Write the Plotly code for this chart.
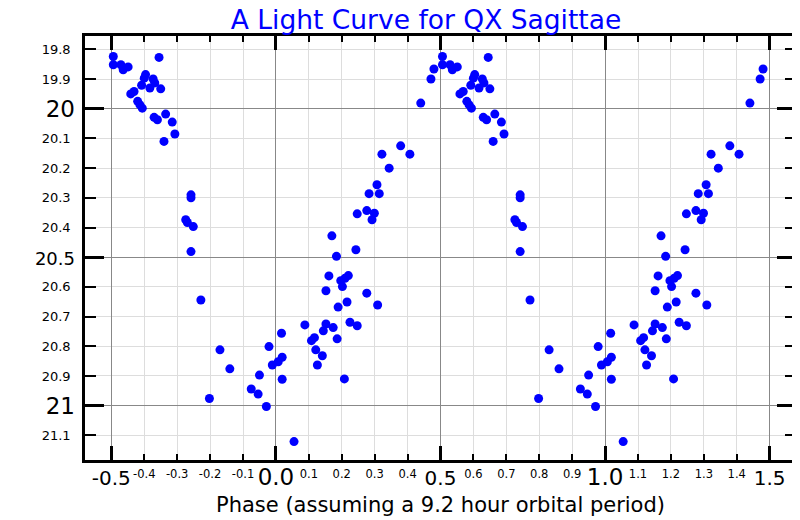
import numpy as np
import plotly.graph_objects as go

# phase-folded photometry of QX Sge (phase in [-0.5, 0.5), magnitude)
phase = [-0.494, -0.494, -0.471, -0.464, -0.449, -0.355, -0.396, -0.400, -0.408, -0.383,
         -0.373, -0.368, -0.350, -0.431, -0.441, -0.420, -0.413, -0.406, -0.335, -0.370,
         -0.360, -0.315, -0.307, -0.340,
         -0.258, -0.258, -0.274, -0.269, -0.251, -0.258, -0.228, -0.170, -0.140, -0.202,
         -0.021, 0.019, 0.007, -0.011, -0.050, 0.019, -0.075, -0.054, -0.029, 0.055, 0.017,
         0.088, 0.108, 0.117, 0.121, 0.141, 0.126, 0.144, 0.152, 0.174, 0.186,
         0.208, 0.225, 0.247, 0.189, 0.216, 0.309, 0.152, 0.276, 0.202, 0.197,
         0.210, 0.220, 0.161, 0.184, 0.243, 0.170, 0.247, 0.276, 0.299, 0.292,
         0.283, 0.314, 0.307, 0.344, 0.322, 0.379, 0.407, 0.440, 0.471, 0.480]
mag = [19.824, 19.852, 19.852, 19.869, 19.859, 19.827, 19.885, 19.897, 19.921, 19.930,
       19.900, 19.913, 19.933, 19.942, 19.950, 19.975, 19.987, 19.998, 20.018, 20.029,
       20.037, 20.045, 20.085, 20.110,
       20.290, 20.300, 20.374, 20.383, 20.397, 20.481, 20.644, 20.812, 20.876, 20.976,
       20.801, 20.837, 20.852, 20.863, 20.897, 20.911, 20.944, 20.961, 21.003, 21.121, 20.756,
       20.728, 20.781, 20.771, 20.812, 20.832, 20.863, 20.748, 20.725, 20.737, 20.775,
       20.910, 20.719, 20.731, 20.668, 20.651, 20.661, 20.613, 20.621, 20.599, 20.579,
       20.571, 20.562, 20.563, 20.497, 20.475, 20.428, 20.354, 20.343, 20.352, 20.374,
       20.286, 20.286, 20.256, 20.200, 20.153, 20.125, 20.153, 19.981, 19.900, 19.866]

x_minor_vals = [-0.4, -0.3, -0.2, -0.1, 0.1, 0.2, 0.3, 0.4, 0.6, 0.7, 0.8, 0.9, 1.1, 1.2, 1.3, 1.4]
x_minor_text = ["-0.4", "-0.3", "-0.2", "-0.1", "0.1", "0.2", "0.3", "0.4",
                "0.6", "0.7", "0.8", "0.9", "1.1", "1.2", "1.3", "1.4"]
x_major_vals = [-0.5, 0.0, 0.5, 1.0, 1.5]
x_major_text = ["-0.5", "<span style='font-size:23px'>0.0</span>", "0.5",
                "<span style='font-size:23px'>1.0</span>", "1.5"]
y_minor_vals = [19.8, 19.9, 20.1, 20.2, 20.3, 20.4, 20.6, 20.7, 20.8, 20.9, 21.1]
y_minor_text = ["19.8", "19.9", "20.1", "20.2", "20.3", "20.4", "20.6", "20.7", "20.8", "20.9", "21.1"]
y_major_vals = [20.0, 20.5, 21.0]
y_major_text = ["20", "<span style='font-size:18px'>20.5</span>", "21"]

# show two cycles
x_all = np.concatenate([np.array(phase), np.array(phase) + 1])
y_all = np.concatenate([np.array(mag), np.array(mag)])

xr = [-0.58, 1.58]
yr = [21.183, 19.755]

fig = go.Figure()
# empty traces so the overlay axes (major ticks / dark grid) get drawn
fig.add_trace(go.Scatter(x=[None], y=[None], xaxis="x2", yaxis="y", showlegend=False, hoverinfo="skip"))
fig.add_trace(go.Scatter(x=[None], y=[None], xaxis="x", yaxis="y2", showlegend=False, hoverinfo="skip"))
fig.add_trace(go.Scatter(x=x_all, y=y_all, mode="markers",
                         marker=dict(color="#0000ff", size=9), showlegend=False))

# page body adds an 8px offset, margins are set with that in mind
fig.update_layout(
    width=800, height=520,
    margin=dict(l=77, r=12, t=28, b=68, autoexpand=False),
    plot_bgcolor="white", paper_bgcolor="white",
    font=dict(family="DejaVu Sans", color="black"),
    title=dict(text="A Light Curve for QX Sagittae", font=dict(size=26.5, color="#0000ff"),
               x=0.5225, xanchor="center", y=0.977, yanchor="middle"),
    xaxis=dict(range=xr, tickvals=x_minor_vals, ticktext=x_minor_text, tickfont=dict(size=11.5),
               ticks="inside", ticklen=6, tickwidth=1.5, tickcolor="black",
               showgrid=True, gridcolor="#dddddd", gridwidth=1, zeroline=False,
               showline=True, linewidth=2.5, linecolor="black", mirror="ticks",
               ticklabelstandoff=1, automargin=False),
    xaxis2=dict(range=xr, overlaying="x", anchor="y", side="bottom",
                tickvals=x_major_vals, ticktext=x_major_text, tickfont=dict(size=20),
                ticks="inside", ticklen=14, tickwidth=3, tickcolor="black",
                showgrid=True, gridcolor="#888888", gridwidth=1.2, zeroline=False,
                showline=False, mirror="ticks", automargin=False, ticklabelstandoff=4,
                title=dict(text="Phase (assuming a 9.2 hour orbital period)", font=dict(size=21),
                           standoff=8)),
    yaxis=dict(range=yr, tickvals=y_minor_vals, ticktext=y_minor_text, tickfont=dict(size=13),
               ticks="inside", ticklen=11, tickwidth=1.5, tickcolor="black",
               showgrid=True, gridcolor="#dddddd", gridwidth=1, zeroline=False,
               showline=True, linewidth=2.5, linecolor="black", mirror="ticks",
               ticklabelstandoff=9, automargin=False),
    yaxis2=dict(range=yr, overlaying="y", anchor="x", side="left",
                tickvals=y_major_vals, ticktext=y_major_text, tickfont=dict(size=23),
                ticks="inside", ticklen=19, tickwidth=3, tickcolor="black",
                showgrid=True, gridcolor="#888888", gridwidth=1.2, zeroline=False,
                showline=False, mirror="ticks", ticklabelstandoff=9, automargin=False),
)

fig.write_html("out.html")
